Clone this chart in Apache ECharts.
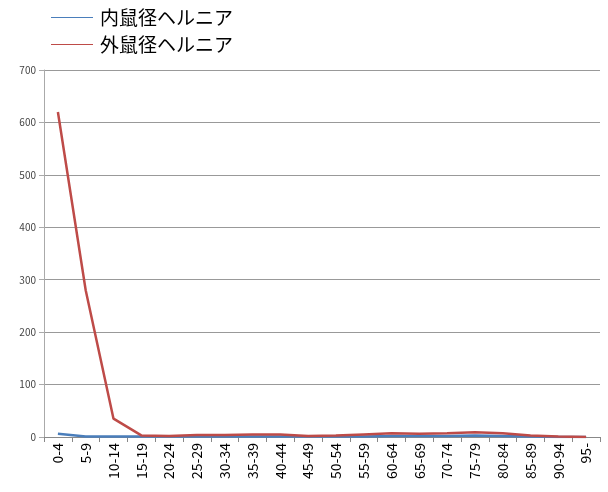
<!DOCTYPE html>
<html>
<head>
<meta charset="utf-8">
<script src="https://cdn.jsdelivr.net/npm/echarts@6/dist/echarts.min.js"></script>
<style>
html,body{margin:0;padding:0;background:#fff;}
#chart{width:608px;height:492px;}
</style>
</head>
<body>
<div id="chart"></div>
<script>
// Age groups
const ageGroups = ['0-4','5-9','10-14','15-19','20-24','25-29','30-34','35-39','40-44','45-49',
  '50-54','55-59','60-64','65-69','70-74','75-79','80-84','85-89','90-94','95-'];
// Inguinal hernia counts by age group
const innerHernia = [6,1,1,1,1,1,1,1,1,1,1,1,2,2,2,3,2,1,0,0];
const outerHernia = [620,280,35,3,2,4,4,5,5,2,3,5,7,6,7,9,7,3,1,0];
const seriesNames = ['内鼠径ヘルニア','外鼠径ヘルニア'];
const yTicks = { min: 0, max: 700, interval: 100 };

const chart = echarts.init(document.getElementById('chart'));
const fontFamily = '"Noto Sans CJK JP", "Noto Sans", sans-serif';
chart.setOption({
  animation: false,
  textStyle: { fontFamily },
  legend: {
    orient: 'vertical',
    left: 46,
    top: 3,
    itemWidth: 42,
    itemHeight: 1,
    itemGap: 8,
    icon: 'rect',
    textStyle: { fontSize: 19, color: '#000', fontFamily, padding: [0, 0, 0, 2] },
    data: seriesNames
  },
  grid: { left: 44, right: 8, top: 70, bottom: 55 },
  xAxis: {
    type: 'category',
    data: ageGroups,
    boundaryGap: true,
    axisLine: { lineStyle: { color: '#888' } },
    axisTick: { show: true, interval: 0, length: 5, lineStyle: { color: '#888' } },
    axisLabel: { rotate: 90, interval: 0, fontSize: 14, color: '#000', margin: 6, fontFamily }
  },
  yAxis: {
    type: 'value',
    min: yTicks.min, max: yTicks.max, interval: yTicks.interval,
    axisLine: { show: true, lineStyle: { color: '#aaa' } },
    axisTick: { show: true, length: 5, lineStyle: { color: '#aaa' } },
    splitLine: { lineStyle: { color: '#999' } },
    axisLabel: { fontSize: 10, color: '#444', margin: 8, fontFamily }
  },
  series: [
    {
      name: seriesNames[0], type: 'line', data: innerHernia,
      symbol: 'none',
      lineStyle: { color: '#4a7ebb', width: 2.5 }, itemStyle: { color: '#4a7ebb' }
    },
    {
      name: seriesNames[1], type: 'line', data: outerHernia,
      symbol: 'none',
      lineStyle: { color: '#be4b48', width: 2.5 }, itemStyle: { color: '#be4b48' }
    }
  ]
});
</script>
</body>
</html>
